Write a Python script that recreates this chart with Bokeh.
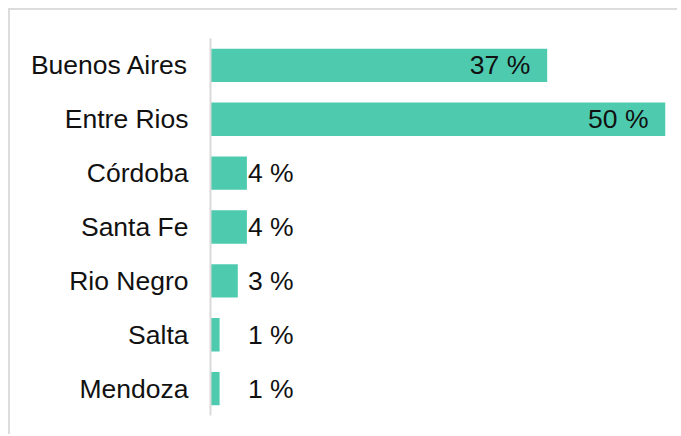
from bokeh.plotting import figure
from bokeh.models import ColumnDataSource, FactorRange, Range1d
from bokeh.core.properties import value
from bokeh.embed import file_html
from bokeh.resources import INLINE

provinces = ["Buenos Aires", "Entre Rios", "Córdoba", "Santa Fe", "Rio Negro", "Salta", "Mendoza"]
shares = [37, 50, 4, 4, 3, 1, 1]
labels = [f"{v} %" for v in shares]

MIN_LABEL_X = 11
label_x = [max(v, MIN_LABEL_X) for v in shares]

src = ColumnDataSource(dict(prov=provinces, share=shares, lab=labels, lx=label_x))

p = figure(width=669, height=426, output_backend="svg", toolbar_location=None,
           y_range=FactorRange(*reversed(provinces), range_padding=0),
           x_range=Range1d(0, 50),
           min_border_left=200, min_border_right=14, min_border_top=28, min_border_bottom=21)
p.styles = {"border-top": "2px solid #dcdcdc", "border-left": "2px solid #dcdcdc",
            "margin-left": "8px", "margin-top": "8px"}

p.hbar(y="prov", right="share", left=0, height=0.62, source=src,
       fill_color="#4ecbaf", line_color=None)
p.text(x="lx", y="prov", text="lab", source=src, text_align="right",
       text_baseline="middle", x_offset=-17, text_font=value("Liberation Sans"),
       text_font_size="26.5px", text_color="#111111")

p.xaxis.visible = False
p.xgrid.visible = False
p.ygrid.visible = False
p.outline_line_color = None
ya = p.yaxis[0]
ya.axis_line_color = "#d9d9d9"
ya.axis_line_width = 2
ya.major_tick_line_color = None
ya.minor_tick_line_color = None
ya.major_tick_out = 0
ya.major_label_standoff = 22
ya.major_label_text_font = "Liberation Sans"
ya.major_label_text_font_size = "26.5px"
ya.major_label_text_color = "#111111"

open("out.html", "w").write(file_html(p, INLINE))
